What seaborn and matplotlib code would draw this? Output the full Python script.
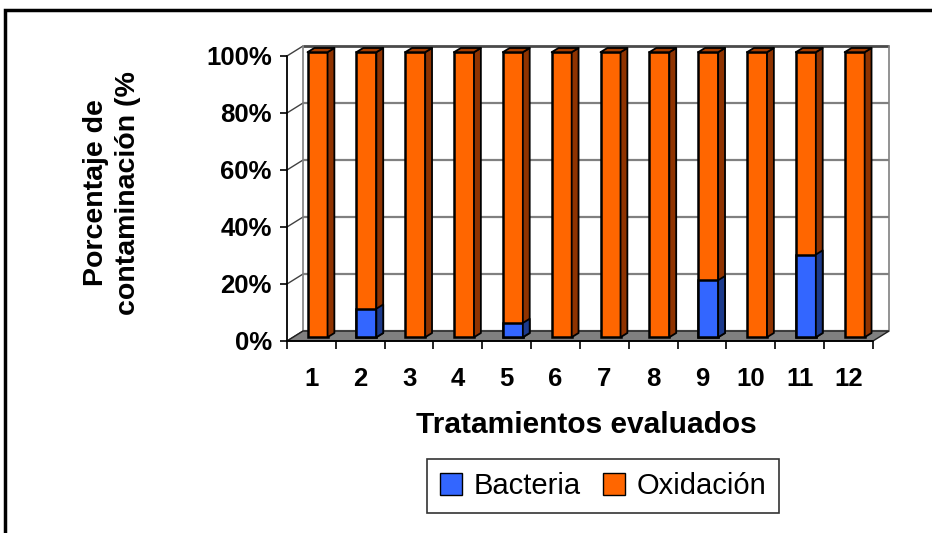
import matplotlib
matplotlib.use("Agg")
import matplotlib.pyplot as plt
from matplotlib.patches import Polygon, Rectangle, Patch
from matplotlib.transforms import Affine2D
import numpy as np
import pandas as pd
import seaborn as sns

# Treatments and contamination shares (%)
tratamientos = ["1", "2", "3", "4", "5", "6", "7", "8", "9", "10", "11", "12"]
bacteria = [0, 10, 0, 0, 5, 0, 0, 0, 20, 0, 29, 0]
oxidacion = [100, 90, 100, 100, 95, 100, 100, 100, 80, 100, 71, 100]
yticks = [0, 20, 40, 60, 80, 100]
ytick_labels = ["0%", "20%", "40%", "60%", "80%", "100%"]

df = pd.DataFrame({"Tratamiento": tratamientos,
                   "Bacteria": bacteria,
                   "Oxidación": oxidacion})
df["Total"] = df["Bacteria"] + df["Oxidación"]

sns.set_style("white")
plt.rcParams["font.family"] = ["Liberation Sans", "DejaVu Sans"]
plt.rcParams["text.color"] = "black"
plt.rcParams["xtick.color"] = "black"
plt.rcParams["ytick.color"] = "black"

ORANGE, ORANGE_SIDE, ORANGE_TOP = "#FF6600", "#8F3300", "#A83E00"
BLUE, BLUE_SIDE = "#3366FF", "#1C3A8C"

fig = plt.figure(figsize=(9.32, 5.33), dpi=100)
W, H = 932, 533
ax = fig.add_axes([287 / W, 1 - 341 / H, (889 - 287) / W, (341 - 46) / H])

# pseudo-3D depth of the plot box and of each bar (data units)
DX, DY = 0.328, 3.5
BX, BY = 0.125, 1.33      # bar front face offset into the depth
SX, SY = 0.14, 1.47       # bar thickness

n = len(tratamientos)
ax.set_xlim(-0.5, n - 0.5 + DX)
ax.set_ylim(0, 100 + DY)

# back wall gridlines and side wall diagonals
for v in yticks:
    col, lw = ("#4a4a4a", 2.0) if v == 100 else ("#808080", 1.6)
    ax.plot([-0.5 + DX, n - 0.5 + DX], [v + DY, v + DY], color=col, lw=lw,
            zorder=0.5, clip_on=False, solid_capstyle="butt")
    ax.plot([-0.5, -0.5 + DX], [v, v + DY], color="#404040", lw=1.0,
            zorder=0.5, clip_on=False)
ax.plot([-0.5 + DX, -0.5 + DX], [DY, 100 + DY], color="#808080", lw=1.2,
        zorder=0.5, clip_on=False)
ax.plot([n - 0.5 + DX, n - 0.5 + DX], [DY, 100 + DY], color="#808080", lw=1.2,
        zorder=0.5, clip_on=False)

# floor
ax.add_patch(Polygon([(-0.5, 0), (n - 0.5, 0), (n - 0.5 + DX, DY), (-0.5 + DX, DY)],
                     closed=True, facecolor="#808080", edgecolor="#202020",
                     lw=1.0, zorder=0.8, clip_on=False))

# front axis lines
ax.plot([-0.5, -0.5], [0, 100], color="black", lw=1.3, zorder=1, clip_on=False)
ax.plot([-0.5, n - 0.5], [0, 0], color="black", lw=1.3, zorder=1, clip_on=False)


def extrude(patches, side, top, z):
    shift = Affine2D().translate(BX, BY) + ax.transData
    for p in patches:
        p.set_transform(shift)
        p.set_zorder(z)
        h = p.get_height()
        if h <= 0:
            p.set_visible(False)
            continue
        x0 = p.get_x() + BX
        x1 = x0 + p.get_width()
        y0 = p.get_y() + BY
        y1 = y0 + h
        ax.add_patch(Polygon([(x1, y0), (x1 + SX, y0 + SY), (x1 + SX, y1 + SY), (x1, y1)],
                             closed=True, facecolor=side, edgecolor="black",
                             lw=1.3, zorder=z, clip_on=False, joinstyle="round"))
        if top is not None:
            ax.add_patch(Polygon([(x0, y1), (x1, y1), (x1 + SX, y1 + SY), (x0 + SX, y1 + SY)],
                                 closed=True, facecolor=top, edgecolor="black",
                                 lw=1.3, zorder=z, clip_on=False, joinstyle="round"))


# Oxidación stacked on Bacteria: full column first, Bacteria drawn over its base
sns.barplot(data=df, x="Tratamiento", y="Total", color=ORANGE, saturation=1,
            width=0.41, edgecolor="black", linewidth=1.8, ax=ax)
orange_patches = list(ax.patches[1:])
extrude(orange_patches, ORANGE_SIDE, ORANGE_TOP, 3)

k = len(ax.patches)
sns.barplot(data=df, x="Tratamiento", y="Bacteria", color=BLUE, saturation=1,
            width=0.41, edgecolor="black", linewidth=1.8, ax=ax)
blue_patches = list(ax.patches[k:])
extrude(blue_patches, BLUE_SIDE, None, 4)
for p in ax.patches:
    p.set_clip_on(False)

ax.set_xlim(-0.5, n - 0.5 + DX)
ax.set_ylim(0, 100 + DY)

for s in ax.spines.values():
    s.set_visible(False)

ax.set_yticks(yticks)
ax.set_yticklabels(ytick_labels, fontsize=18.5, fontweight="bold", color="black")
ax.tick_params(axis="y", length=5, width=1.2, color="black", pad=6, left=True)
ax.set_xticks(range(n))
ax.set_xticklabels(tratamientos, fontsize=18.5, fontweight="bold", color="black")
ax.tick_params(axis="x", which="major", length=0, pad=19, bottom=True)
ax.set_xticks(np.arange(-0.5, n, 1.0), minor=True)
ax.tick_params(axis="x", which="minor", length=6, width=1.2, color="black",
               bottom=True)
ax.set_xlabel("")
ax.set_ylabel("")

fig.text(112 / W, 1 - 193 / H, "Porcentaje de\ncontaminación (%",
         rotation=90, ha="center", va="center", multialignment="center",
         fontsize=20.5, fontweight="bold", linespacing=1.3, color="black")
fig.text(586 / W, 1 - 425 / H, "Tratamientos evaluados",
         ha="center", va="center", fontsize=21.5, fontweight="bold", color="black")

leg = fig.legend(handles=[Patch(facecolor=BLUE, edgecolor="black", lw=1.0, label="Bacteria"),
                          Patch(facecolor=ORANGE, edgecolor="black", lw=1.0, label="Oxidación")],
                 loc="center", bbox_to_anchor=(603 / W, 1 - 486 / H), ncol=2,
                 fontsize=21, frameon=True, fancybox=False, edgecolor="black",
                 handlelength=0.75, handleheight=0.75, handletextpad=0.4,
                 columnspacing=0.75, borderpad=0.45, borderaxespad=0)
leg.get_frame().set_linewidth(1.2)
for t in leg.get_texts():
    t.set_color("black")

# outer chart frame
fig.add_artist(Rectangle((5 / W, -0.1), 1.2, 1.1 - 10 / H, transform=fig.transFigure,
                         fill=False, edgecolor="black", lw=2.5))

fig.savefig("out.png", dpi=100)
